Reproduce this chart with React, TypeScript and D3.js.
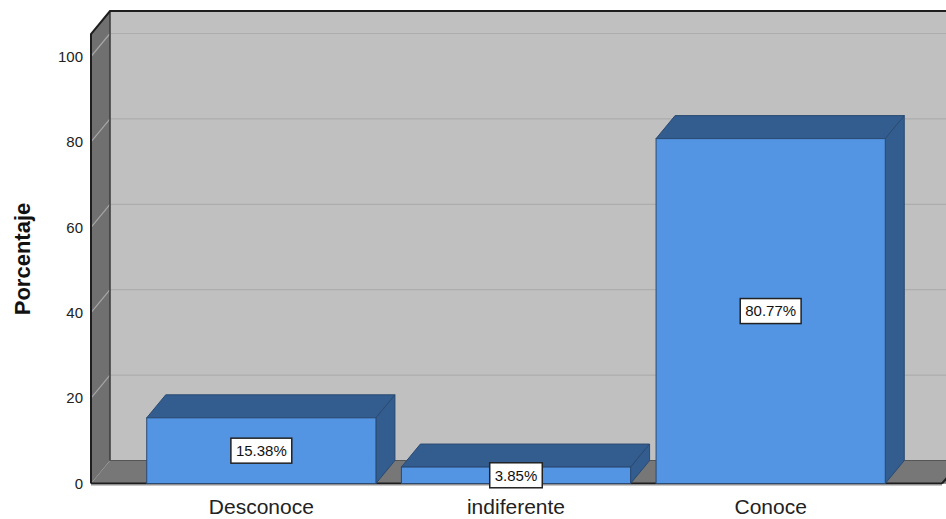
import React from "react";
import * as d3 from "d3";

const categories = ["Desconoce", "indiferente", "Conoce"];
const percentages = [15.38, 3.85, 80.77];
const yTicks = [0, 20, 40, 60, 80, 100];
const yTitle = "Porcentaje";

const W = 946;
const H = 519;
const DX = 19; // depth offset, horizontal
const DY = -23; // depth offset, vertical

const x0 = 91; // front left edge of the plot
const xEndFront = 942;
const y = d3.scaleLinear().domain([0, 100]).range([483.5, 56.5]);
const x = d3
  .scaleBand<string>()
  .domain(categories)
  .range([134, 898])
  .paddingInner(0.1)
  .paddingOuter(0.05);

const FRONT = "#5394E3";
const DARK = "#335D8E";
const EDGE = "#2A4A72";

// approximate Arial advance widths (em) for label box sizing
const charW = (ch: string) => (ch === "." ? 0.278 : ch === "%" ? 0.889 : 0.556);
const textWidth = (s: string, size: number) =>
  s.split("").reduce((a, ch) => a + charW(ch), 0) * size;

export default function App() {
  const yTop = 34; // front top of the wall
  const yBot = y(0);
  const font = "Liberation Sans, Arial, sans-serif";

  return (
    <svg
      width={W}
      height={H}
      style={{ position: "absolute", left: 0, top: 0, background: "#fff" }}
      fontFamily={font}
    >
      {/* back wall */}
      <rect x={x0 + DX} y={yTop + DY} width={W} height={yBot - yTop} fill="#C0C0C0" />
      {yTicks
        .filter((t) => t > 0)
        .map((t) => (
          <line
            key={"g" + t}
            x1={x0 + DX}
            x2={W + 20}
            y1={y(t) + DY}
            y2={y(t) + DY}
            stroke="#ADADAD"
            strokeWidth={1.2}
          />
        ))}
      {/* left wall */}
      <polygon
        points={`${x0},${yTop} ${x0 + DX},${yTop + DY} ${x0 + DX},${yBot + DY} ${x0},${yBot}`}
        fill="#707070"
      />
      {yTicks
        .filter((t) => t > 0)
        .map((t) => (
          <line
            key={"lg" + t}
            x1={x0}
            y1={y(t)}
            x2={x0 + DX}
            y2={y(t) + DY}
            stroke="#A6A6A6"
            strokeWidth={1.2}
          />
        ))}
      <line x1={x0 + DX} x2={x0 + DX} y1={yTop + DY} y2={yBot + DY} stroke="#3A3A3A" strokeWidth={1.5} />
      {/* floor */}
      <polygon
        points={`${x0},${yBot} ${x0 + DX},${yBot + DY} ${xEndFront + DX + 20},${yBot + DY} ${xEndFront + 20},${yBot}`}
        fill="#777777"
      />
      <polygon
        points={`${xEndFront},${yBot} ${xEndFront + DX},${yBot + DY} ${W + 30},${yBot + DY} ${W + 30},${yBot}`}
        fill="#777777"
      />
      <line x1={x0 + DX} x2={W} y1={yBot + DY} y2={yBot + DY} stroke="#555" strokeWidth={1} />
      {/* frame lines */}
      <polyline
        points={`${x0},${yBot} ${x0},${yTop} ${x0 + DX},${yTop + DY} ${W},${yTop + DY}`}
        fill="none"
        stroke="#1E1E1E"
        strokeWidth={2}
      />
      <line x1={x0} x2={xEndFront} y1={yBot} y2={yBot} stroke="#1E1E1E" strokeWidth={2} />
      <line x1={xEndFront} x2={xEndFront + 6} y1={yBot} y2={yBot - 7} stroke="#1E1E1E" strokeWidth={2} />
      <line x1={x0} x2={xEndFront} y1={yBot + 2} y2={yBot + 2} stroke="#C8C8C8" strokeWidth={1} />

      {/* bars */}
      {categories.map((c, i) => {
        const bx = x(c)!;
        const bw = x.bandwidth();
        const v = percentages[i];
        const ty = y(v);
        return (
          <g key={c}>
            <polygon
              points={`${bx},${ty} ${bx + DX},${ty + DY} ${bx + bw + DX},${ty + DY} ${bx + bw},${ty}`}
              fill={DARK}
              stroke={EDGE}
              strokeWidth={1}
            />
            <polygon
              points={`${bx + bw},${ty} ${bx + bw + DX},${ty + DY} ${bx + bw + DX},${yBot + DY} ${bx + bw},${yBot}`}
              fill={DARK}
              stroke={EDGE}
              strokeWidth={1}
            />
            <rect x={bx} y={ty} width={bw} height={yBot - ty} fill={FRONT} stroke={EDGE} strokeWidth={1} />
          </g>
        );
      })}

      {/* value labels */}
      {categories.map((c, i) => {
        const v = percentages[i];
        const cx = x(c)! + x.bandwidth() / 2;
        const cy = (y(v) + yBot) / 2;
        const label = v.toFixed(2) + "%";
        const bw = textWidth(label, 15) + 10;
        const bh = 25;
        return (
          <g key={"l" + c}>
            <rect
              x={cx - bw / 2}
              y={cy - bh / 2}
              width={bw}
              height={bh}
              fill="#fff"
              stroke="#222"
              strokeWidth={1.5}
            />
            <text x={cx} y={cy} dy="0.35em" textAnchor="middle" fontSize={15} fill="#111">
              {label}
            </text>
          </g>
        );
      })}

      {/* y tick labels */}
      {yTicks.map((t) => (
        <text key={"t" + t} x={83} y={y(t)} dy="0.35em" textAnchor="end" fontSize={15} fill="#222">
          {t}
        </text>
      ))}

      {/* category labels */}
      {categories.map((c) => (
        <text
          key={"c" + c}
          x={x(c)! + x.bandwidth() / 2}
          y={514}
          textAnchor="middle"
          fontSize={21}
          fill="#222"
        >
          {c}
        </text>
      ))}

      {/* y title */}
      <text
        transform={`translate(30,259) rotate(-90)`}
        textAnchor="middle"
        fontSize={22}
        fontWeight="bold"
        fill="#111"
      >
        {yTitle}
      </text>
    </svg>
  );
}
